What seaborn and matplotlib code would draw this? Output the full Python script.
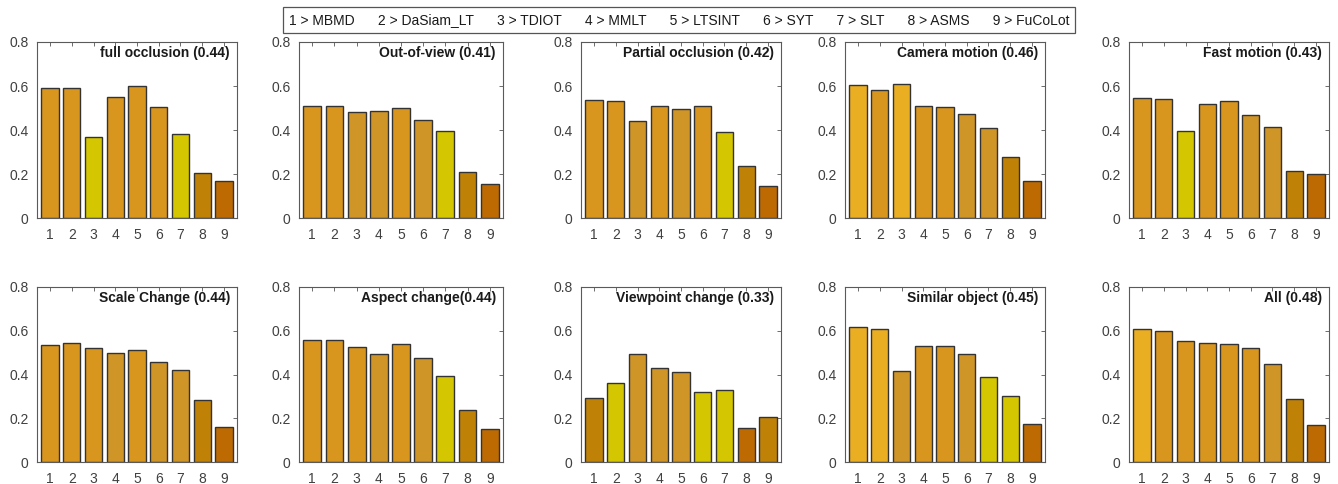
import matplotlib
matplotlib.use("Agg")
import matplotlib.pyplot as plt
import seaborn as sns
import pandas as pd

sns.set_style("white")
plt.rcParams['font.family'] = ['Liberation Sans', 'DejaVu Sans']

trackers = ["MBMD", "DaSiam_LT", "TDIOT", "MMLT", "LTSINT", "SYT", "SLT", "ASMS", "FuCoLot"]
ids = [1, 2, 3, 4, 5, 6, 7, 8, 9]

titles = ["full occlusion (0.44)", "Out-of-view (0.41)", "Partial occlusion (0.42)",
          "Camera motion (0.46)", "Fast motion (0.43)", "Scale Change (0.44)",
          "Aspect change(0.44)", "Viewpoint change (0.33)", "Similar object (0.45)",
          "All (0.48)"]

full_occlusion = [0.59, 0.59, 0.37, 0.55, 0.60, 0.505, 0.38, 0.205, 0.17]
out_of_view = [0.51, 0.508, 0.482, 0.488, 0.502, 0.445, 0.395, 0.21, 0.153]
partial_occlusion = [0.535, 0.532, 0.44, 0.51, 0.497, 0.509, 0.39, 0.236, 0.146]
camera_motion = [0.605, 0.582, 0.611, 0.511, 0.506, 0.471, 0.411, 0.275, 0.168]
fast_motion = [0.547, 0.542, 0.397, 0.52, 0.533, 0.466, 0.414, 0.214, 0.199]
scale_change = [0.534, 0.543, 0.522, 0.5, 0.51, 0.455, 0.42, 0.285, 0.16]
aspect_change = [0.56, 0.56, 0.525, 0.495, 0.538, 0.475, 0.393, 0.24, 0.153]
viewpoint_change = [0.291, 0.361, 0.493, 0.429, 0.411, 0.318, 0.329, 0.155, 0.204]
similar_object = [0.618, 0.607, 0.416, 0.531, 0.529, 0.496, 0.388, 0.302, 0.175]
all_attr = [0.61, 0.6, 0.555, 0.545, 0.54, 0.519, 0.45, 0.29, 0.169]

series = [full_occlusion, out_of_view, partial_occlusion, camera_motion, fast_motion,
          scale_change, aspect_change, viewpoint_change, similar_object, all_attr]

# colour classes
PAL = {"A": "#EAAE22", "B": "#D9961F", "C": "#CF9527", "D": "#D4C600",
       "E": "#C08206", "F": "#BE6A02"}
color_codes = [
    "BBDBBBDEF", "BBCCBCDEF", "BBCBCBDEF", "ABABBCCEF", "BBDBBCCEF",
    "BBBCBCCEF", "BBBCBCDEF", "EDCCCDDFE", "AACBBCDDF", "ABBBBBCEF",
]

W, H = 1338, 484
fig = plt.figure(figsize=(W / 100, H / 100), dpi=100)

lefts = [37, 299, 581, 845, 1129]
widths = [200, 204, 200, 200, 200]
tops = [42, 287]
heights = [176, 175]

for i, (vals, title, codes) in enumerate(zip(series, titles, color_codes)):
    r, c = divmod(i, 5)
    ax = fig.add_axes([lefts[c] / W, 1 - (tops[r] + heights[r]) / H,
                       widths[c] / W, heights[r] / H])
    df = pd.DataFrame({"id": ids, "val": vals, "tracker": trackers})
    pal = {t: PAL[k] for t, k in zip(trackers, codes)}
    sns.barplot(data=df, x="id", y="val", hue="tracker", palette=pal,
                native_scale=True, dodge=False, legend=False, width=0.8,
                edgecolor="#333333", linewidth=1.0, saturation=1, ax=ax)
    ax.set_xlim(0.4, 9.6)
    ax.set_ylim(0, 0.8)
    ax.set_xticks(ids)
    ax.set_xticklabels([str(k) for k in ids])
    ax.set_yticks([0, 0.2, 0.4, 0.6, 0.8])
    ax.set_yticklabels(["0", "0.2", "0.4", "0.6", "0.8"])
    ax.set_xlabel("")
    ax.set_ylabel("")
    ax.tick_params(direction="in", length=3, width=0.6, top=True, right=True,
                   labelsize=10, labelcolor="#404040", color="#555555")
    ax.tick_params(axis="x", pad=7)
    ax.tick_params(axis="y", pad=6)
    for s in ax.spines.values():
        s.set_color("#5a5a5a")
        s.set_linewidth(0.8)
    ax.text(0.965, 0.935, title, transform=ax.transAxes, ha="right", va="center",
            fontsize=10, fontweight="bold", color="#1a1a1a")

legend_txt = "      ".join(f"{k} > {t}" for k, t in zip(ids, trackers))
fig.text(679 / W, 1 - 20 / H, legend_txt, ha="center", va="center", fontsize=10,
         color="#1a1a1a",
         bbox=dict(boxstyle="square,pad=0.4", fc="white", ec="#555555", lw=0.9))

fig.savefig("out.png", dpi=100, facecolor="white")
